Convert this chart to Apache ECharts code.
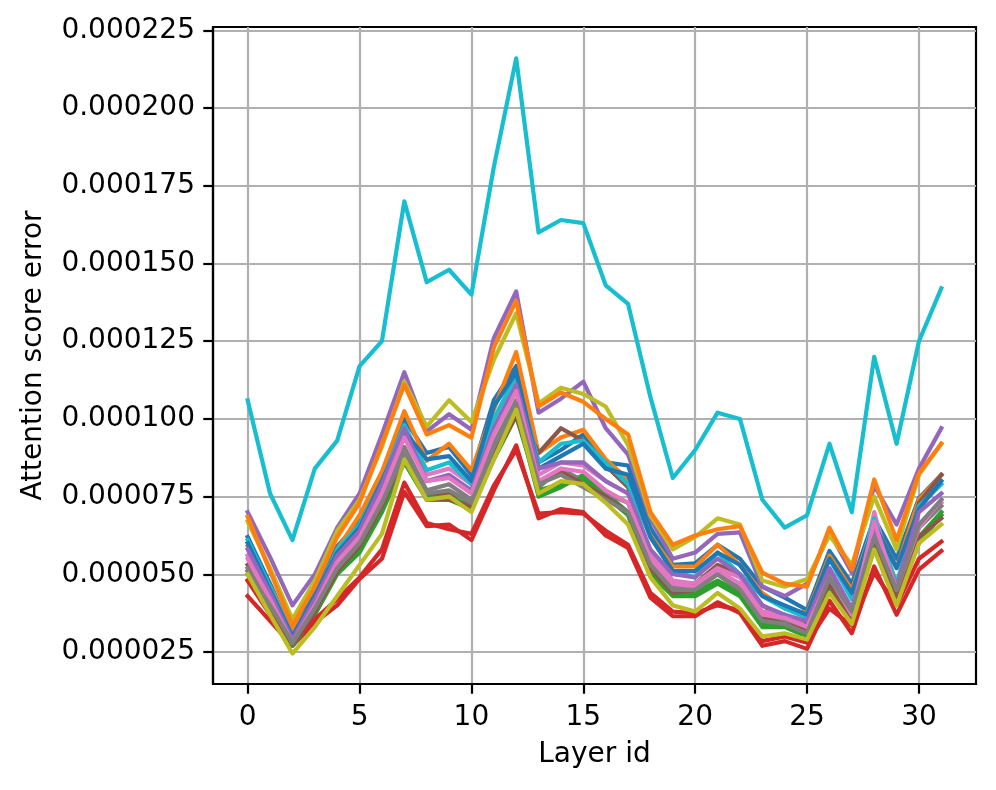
<!DOCTYPE html>
<html>
<head>
<meta charset="utf-8">
<script src="https://cdn.jsdelivr.net/npm/echarts@6/dist/echarts.min.js"></script>
<style>html,body{margin:0;padding:0;background:#fff}#chart{width:996px;height:790px}</style>
</head>
<body>
<div id="chart"></div>
<script>
// Layer ids 0..31
const layers = Array.from({length: 32}, (_, i) => i);
// Attention score error values, in units of 1e-6
const blueA   = [62,47,31,44,59,67,82,100,89,91,82,106,117,86,90,95,86,85,65,53,53.5,59.5,55,46,42.5,38.5,57.5,47,68,55,74.5,82];
const orangeA = [59,46,32,42,58,69,83,102.5,86.5,92,83.5,103,121.5,89,94,96.5,87,80.5,62.5,52.5,52.5,59.5,53,44,39,37.5,56,45,66.5,52,74,82];
const greenA  = [50,39,27,38,51,58,72,88,75,75,72,88,103,75,78,82,76,70,52,44,44,48,44,34,34,31,47,36,60,41,62,70];
const redA    = [43,35,27,34.5,40,48.5,55,76.5,65.5,66,61,77,91.5,68,71,70,62.5,58.5,42.5,36.5,36.5,41,37.5,27,28.5,26,41.5,31,52.5,37,51.5,57.5];
const purpleA = [70,55.5,40,50,65,76,95,115,96,101.5,96.5,126,141,102,106.5,112,97,88.5,68,55,57,63,63.5,46,43,47,63.5,50.5,78.5,66,84,97];
const brownA  = [53,41,28,39,52,60,74,89,76,76,74,90,104,89,97,93,85,78,56,47,47,53,50,40,36,34,50,36,62,43,73,82];
const pinkA   = [56,43,28,41,55,63,78,96,82,84,79,98,113,82,86,85,80,76,57,48,47,52,49,38,37,33,48,35,70,44,66,73];
const grayA   = [52,41,29,40,53,61,75,91,77,79,74,92,106,78,84,80,76,73,54,46,46,51,46,36,35,32,50,37,64,44,65,72];
const oliveA  = [67,52,35.5,48,64,74,91,112,97.5,106,99,119,134,105,110,108,104,91.5,69,58,62,68,66,48,46,48.5,62.5,53,75,58,82,92];
const cyanA   = [61,46,30,43,58,66,80,98,83.5,86,79,100,114,86,92,93,86,79,62,51,49,57,50,43,39,36,55,42,68,47,72,79];
const blueB   = [60,45,30,43,57,65,80,96,87,88,80,104,115,84,88,92,84,82,62,51,51,57,53,43,40,37,55,44,66,52,71,80];
const orangeB = [68.5,51,33.5,46,62,73,92,111,95,98,94,123,138,104,108.5,105.5,100,95,70,59.5,62.5,64.5,65.5,50.5,47,46,65,51.5,80.5,61,82.5,92];
const greenB  = [48,38,27,37,50,57,70,86,74,74,71,87,101,77,79,81,75,69,50,43,43,47,43,33,33,30,45,37,58,42,60,69];
const redB    = [48,37,28.5,35.5,42,49,58,79.5,66.5,64.5,63,78.5,90,69.5,70,69.5,64,59.5,44,38,37.5,40,38.5,28.5,30,28,39,33.5,50.5,40,55,60.5];
const purpleB = [58,44,29,42,56,64,79,97,80,82,77,97,111,84,86,86,80,76,58,50,49,55,50,40,37,35,52,39,65,46,70,76];
const brownB  = [51,40,27.5,38,51,59,72,88,74,74,72,88,101,79,83,79,75,70,52,44,45,50,45,36,34,32,47,35,60,42,62,68];
const pinkB   = [55,42,28,40,54,62,76,94,80,81,76,95,109,80,84,83,77,73,55,47,46,51,47,37,36,33,49,37,67,45,65,74];
const grayB   = [51,40,28,39,52,60,73,89,76,77,73,91,105,79,82,78,74,70,53,45,45,50,45,35,34,31,49,38,62,45,66,74];
const oliveB  = [50,37,24.5,33,43,53,63,87,74,75,70,87,103,76,80,79,73,66,49,40,38,44,39,30,31,29,44,34,58,40,60,66];
const cyanB   = [106,76,61,84,93,117,125,170,144,148,140,181,216,160,164,163,143,137,107,81,90,102,100,74,65,69,92,70,120,92,125,142];

const seriesValues = [blueA, orangeA, greenA, redA, purpleA, brownA, pinkA, grayA, oliveA, cyanA,
                      blueB, orangeB, greenB, redB, purpleB, brownB, pinkB, grayB, oliveB, cyanB];
const palette = ['#1f77b4','#ff7f0e','#2ca02c','#d62728','#9467bd','#8c564b','#e377c2','#7f7f7f','#bcbd22','#17becf'];

const xTicks = [0, 5, 10, 15, 20, 25, 30];
const yTicks = [25, 50, 75, 100, 125, 150, 175, 200, 225]; // ×1e-6

const font = 'DejaVu Sans';
const chart = echarts.init(document.getElementById('chart'));
chart.setOption({
  animation: false,
  backgroundColor: '#fff',
  color: palette,
  grid: { left: 213, right: 20, top: 27, bottom: 106, show: true, borderColor: '#000', borderWidth: 2.2, backgroundColor: 'transparent' },
  xAxis: {
    type: 'value', min: -1.55, max: 32.55,
    name: 'Layer id', nameLocation: 'middle', nameGap: 57,
    nameTextStyle: { fontFamily: font, fontSize: 28, color: '#000' },
    axisLine: { show: true, onZero: false, lineStyle: { color: '#000', width: 2.2 } },
    axisTick: { show: true, inside: false, length: 9.7, customValues: xTicks, lineStyle: { color: '#000', width: 2.2 } },
    axisLabel: { customValues: xTicks, margin: 20, fontFamily: font, fontSize: 28, color: '#000' },
    splitLine: { show: true, lineStyle: { color: '#b0b0b0', width: 2.2 } }
  },
  yAxis: {
    type: 'value', min: 14.7, max: 226.1,
    name: 'Attention score error', nameLocation: 'middle', nameRotate: 90, nameGap: 165,
    nameTextStyle: { fontFamily: font, fontSize: 28, color: '#000' },
    axisLine: { show: true, onZero: false, lineStyle: { color: '#000', width: 2.2 } },
    axisTick: { show: true, inside: false, length: 9.7, customValues: yTicks, lineStyle: { color: '#000', width: 2.2 } },
    axisLabel: { customValues: yTicks, margin: 18, fontFamily: font, fontSize: 28, color: '#000',
      formatter: v => (v * 1e-6).toFixed(6) },
    splitLine: { show: true, lineStyle: { color: '#b0b0b0', width: 2.2 } }
  },
  series: seriesValues.map((vals, k) => ({
    type: 'line',
    data: layers.map((x, i) => [x, vals[i]]),
    showSymbol: false,
    symbol: 'none',
    lineStyle: { width: 4.2, color: palette[k % 10], cap: 'square', join: 'round' },
    itemStyle: { color: palette[k % 10] },
    emphasis: { disabled: true }
  }))
});
</script>
</body>
</html>
